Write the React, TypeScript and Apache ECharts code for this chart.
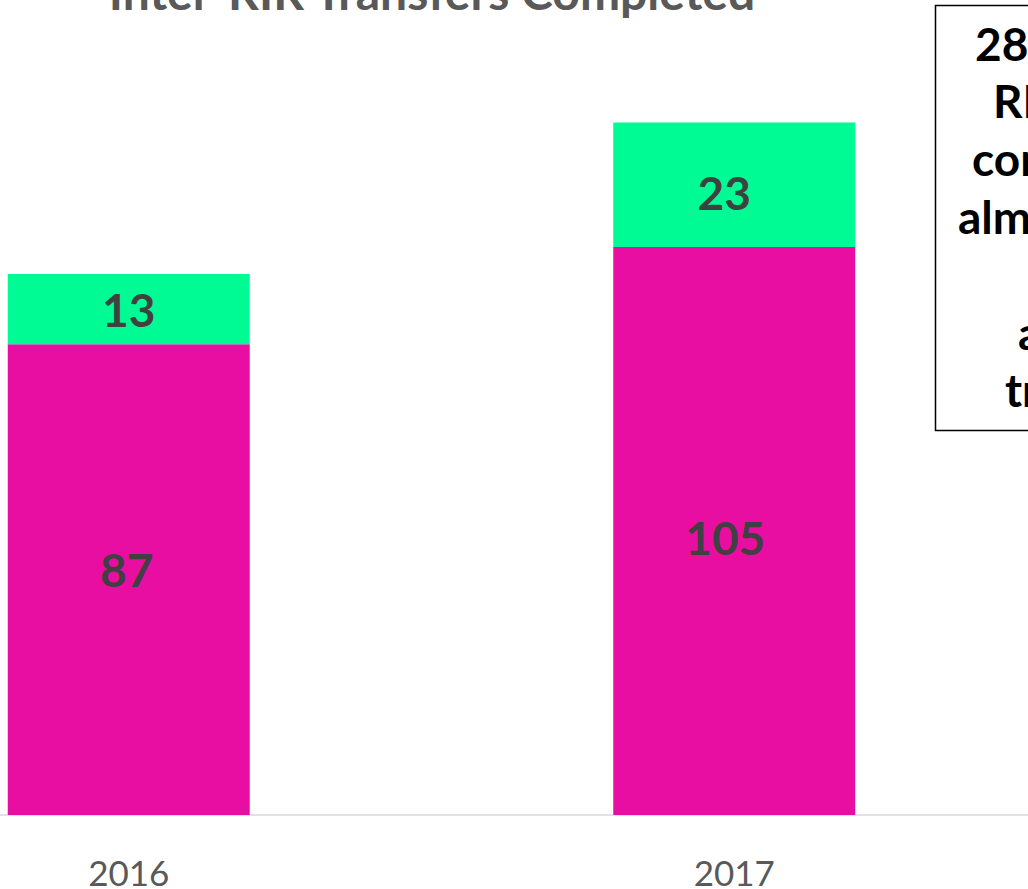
import React, { useEffect, useRef } from "react";
import * as echarts from "echarts";

const categories = ["2016", "2017"];
const lowerValues = [87, 105];
const upperValues = [13, 23];
const lowerLabelOffsets = [[-2, -10], [-9, 7]];
const upperLabelOffsets = [[0, 0], [-10, 8]];
const titleText = "Inter-RIR Transfers Completed";
const noteLines = [
  { text: "28  more", x: 975 },
  { text: "RIR transfers", x: 993 },
  { text: "completed in 2017,", x: 972 },
  { text: "almost double", x: 958 },
  { text: "", x: 1040 },
  { text: "approved", x: 1018 },
  { text: "transfers", x: 1005 },
];

const FONT = "Lato, 'Open Sans', sans-serif";

export default function App() {
  const ref = useRef<HTMLDivElement>(null);
  useEffect(() => {
    document.body.style.margin = "0";
    const chart = echarts.init(ref.current!, null, { renderer: "svg" });
    const labelStyle = {
      show: true,
      position: "inside",
      color: "#404040",
      fontFamily: FONT,
      fontWeight: "bold",
      fontSize: 46,
    };
    const option = {
      animation: false,
      grid: {
        left: -174,
        width: 1211,
        top: 57.6,
        bottom: 74,
        containLabel: false,
        outerBoundsMode: "none",
      },
      xAxis: {
        type: "category",
        data: categories,
        axisLine: { show: true, lineStyle: { color: "#D9D9D9", width: 1.5 } },
        axisTick: { show: false },
        axisLabel: { color: "#595959", fontFamily: FONT, fontSize: 35, margin: 39 },
      },
      yAxis: {
        type: "value",
        min: 0,
        max: 140,
        show: false,
        splitLine: { show: false },
      },
      series: [
        {
          type: "bar",
          stack: "total",
          barWidth: 242,
          itemStyle: { color: "#E90EA2" },
          data: lowerValues.map((v, i) => ({
            value: v,
            label: { ...labelStyle, offset: lowerLabelOffsets[i] },
          })),
        },
        {
          type: "bar",
          stack: "total",
          barWidth: 242,
          itemStyle: { color: "#00FB94" },
          data: upperValues.map((v, i) => ({
            value: v,
            label: { ...labelStyle, offset: upperLabelOffsets[i] },
          })),
        },
      ],
      graphic: [
        {
          type: "text",
          x: 432,
          y: 10 - 0.387 * 48,
          style: {
            text: titleText,
            fill: "#595959",
            fontFamily: FONT,
            fontWeight: "bold",
            fontSize: 48,
            align: "center",
            verticalAlign: "middle",
          },
        },
        {
          type: "rect",
          shape: { x: 935.5, y: 5.5, width: 320, height: 425 },
          style: { fill: "#FFFFFF", stroke: "#000000", lineWidth: 1.5 },
        },
        ...noteLines
          .map((l, i) => ({ ...l, i }))
          .filter((l) => l.text)
          .map((l) => ({
            type: "text",
            x: l.x,
            y: 43 + 57.8 * l.i,
            style: {
              text: l.text,
              fill: "#000000",
              fontFamily: FONT,
              fontWeight: "bold",
              fontSize: 46,
              align: "left",
              verticalAlign: "middle",
            },
          })),
      ],
    };
    chart.setOption(option as any);
    return () => chart.dispose();
  }, []);
  return <div ref={ref} style={{ width: 1028, height: 889 }} />;
}
